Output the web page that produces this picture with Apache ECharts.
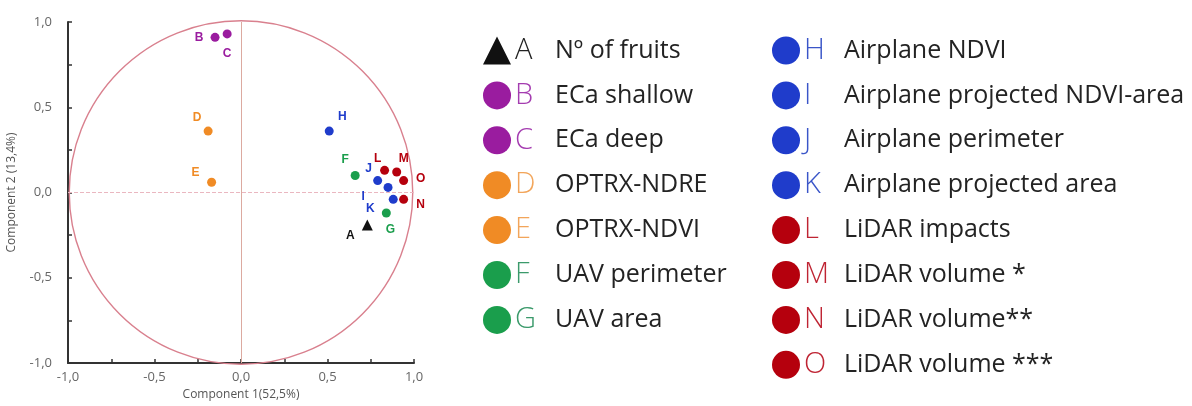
<!DOCTYPE html>
<html>
<head>
<meta charset="utf-8">
<script src="https://cdn.jsdelivr.net/npm/echarts@6/dist/echarts.min.js"></script>
<style>
  html, body { margin: 0; padding: 0; background: #fff; }
  #chart { width: 1192px; height: 406px; }
</style>
</head>
<body>
<div id="chart"></div>
<script>
// Loadings of each variable on the first two principal components
const letters = ['A', 'B', 'C', 'D', 'E', 'F', 'G', 'H', 'I', 'J', 'K', 'L', 'M', 'N', 'O'];
const names = [
  'Nº of fruits', 'ECa shallow', 'ECa deep', 'OPTRX-NDRE', 'OPTRX-NDVI',
  'UAV perimeter', 'UAV area', 'Airplane NDVI', 'Airplane projected NDVI-area',
  'Airplane perimeter', 'Airplane projected area', 'LiDAR impacts',
  'LiDAR volume *', 'LiDAR volume**', 'LiDAR volume ***'
];
const component1 = [0.73, -0.15, -0.08, -0.19, -0.17, 0.66, 0.84, 0.51, 0.85, 0.79, 0.88, 0.83, 0.90, 0.94, 0.94];
const component2 = [-0.19, 0.91, 0.93, 0.36, 0.06, 0.10, -0.12, 0.36, 0.03, 0.07, -0.04, 0.13, 0.12, -0.04, 0.07];
const groups = ['k', 'p', 'p', 'o', 'o', 'g', 'g', 'b', 'b', 'b', 'b', 'r', 'r', 'r', 'r'];
const axisTicks = [-1, -0.5, 0, 0.5, 1];

// Styling
const markColors = { k: '#111111', p: '#9a1c9f', o: '#f08b25', g: '#1a9e4c', b: '#1f3ccb', r: '#b5000d' };
const letterColors = { k: '#222222', p: '#a43cb0', o: '#f2a55a', g: '#3b9a6b', b: '#3a55c8', r: '#bf2433' };
const labelOffsets = {
  A: [-17, 11], B: [-16, 0], C: [0, 20], D: [-11, -13], E: [-16, -10],
  F: [-10, -16], G: [4, 17], H: [13, -14], I: [-25, 9], J: [-9, -12],
  K: [-23, 9], L: [-7, -12], M: [7, -13], N: [17, 5], O: [17, -2]
};
const pink = '#d9808e';
const fmt = v => v.toFixed(1).replace('.', ',');

const scatterSeries = letters.map((L, i) => ({
  type: 'scatter',
  name: names[i],
  symbol: L === 'A' ? 'triangle' : 'circle',
  symbolSize: L === 'A' ? 11 : 9,
  itemStyle: { color: markColors[groups[i]], opacity: 1 },
  z: 5,
  label: {
    show: true,
    position: 'inside',
    offset: labelOffsets[L],
    formatter: () => L,
    color: markColors[groups[i]],
    fontFamily: 'Liberation Sans, Arial, sans-serif',
    fontWeight: 'bold',
    fontSize: 12
  },
  data: [[component1[i], component2[i]]]
}));

// Unit correlation circle with the two zero lines
const circleSeries = {
  type: 'custom',
  name: 'unit circle',
  silent: true,
  z: 1,
  renderItem: (params, api) => {
    const c = api.coord([api.value(0), api.value(1)]);
    const s = api.size([api.value(2), api.value(2)]);
    return {
      type: 'circle',
      shape: { cx: c[0], cy: c[1], r: (s[0] + s[1]) / 2 },
      style: { fill: 'none', stroke: pink, lineWidth: 1.4 }
    };
  },
  data: [[0, 0, 1]],
  markLine: {
    silent: true,
    symbol: 'none',
    label: { show: false },
    data: [
      { xAxis: 0, lineStyle: { color: '#dcaaa0', width: 1, type: 'solid' } },
      { yAxis: 0, lineStyle: { color: '#eab7c0', width: 1, type: [4, 2] } }
    ]
  }
};

const rich = { t: { fontFamily: 'Open Sans', fontSize: 25, color: '#232323', lineHeight: 28 } };
Object.keys(letterColors).forEach(k => {
  rich[k] = {
    fontFamily: 'Open Sans', fontWeight: 300, fontSize: 29,
    color: letterColors[k], width: 40, lineHeight: 28
  };
});

const legendBase = {
  orient: 'vertical',
  top: 36,
  padding: 0,
  itemWidth: 28,
  itemHeight: 28,
  itemGap: 15.9,
  selectedMode: false,
  formatter: name => {
    const i = names.indexOf(name);
    return '{' + groups[i] + '|' + letters[i] + '}{t|' + name + '}';
  },
  textStyle: { rich, lineHeight: 28, padding: [0, 0, 0, -1] }
};

const legendData = names.map((n, i) => ({ name: n, icon: letters[i] === 'A' ? 'triangle' : 'circle' }));

const axisCommon = {
  type: 'value',
  min: -1,
  max: 1,
  interval: 0.5,
  nameLocation: 'middle',
  nameTextStyle: { color: '#555', fontSize: 12, fontFamily: 'Open Sans' },
  axisLine: { show: true, onZero: false, lineStyle: { color: '#333333', width: 2 } },
  axisTick: { show: true, inside: true, length: 4, lineStyle: { color: '#333333', width: 1.5 } },
  minorTick: { show: true, splitNumber: 2, length: 4, lineStyle: { color: '#333333', width: 1.5 } },
  splitLine: { show: false },
  axisLabel: {
    color: '#666',
    fontSize: 13,
    fontFamily: 'Open Sans',
    formatter: v => (axisTicks.includes(v) ? fmt(v) : '')
  }
};

const option = {
  animation: false,
  backgroundColor: '#ffffff',
  grid: { left: 68, top: 22, width: 346, height: 344 },
  xAxis: Object.assign({}, axisCommon, {
    name: 'Component 1(52,5%)',
    nameGap: 26,
    axisLabel: Object.assign({}, axisCommon.axisLabel, { margin: 8 })
  }),
  yAxis: Object.assign({}, axisCommon, {
    name: 'Component 2 (13,4%)',
    nameGap: 50,
    axisLabel: Object.assign({}, axisCommon.axisLabel, { margin: 16 })
  }),
  legend: [
    Object.assign({}, legendBase, { left: 483, data: legendData.slice(0, 7) }),
    Object.assign({}, legendBase, { left: 772, data: legendData.slice(7) })
  ],
  series: [circleSeries].concat(scatterSeries)
};

const chart = echarts.init(document.getElementById('chart'), null, { renderer: 'canvas' });
chart.setOption(option);
</script>
</body>
</html>
